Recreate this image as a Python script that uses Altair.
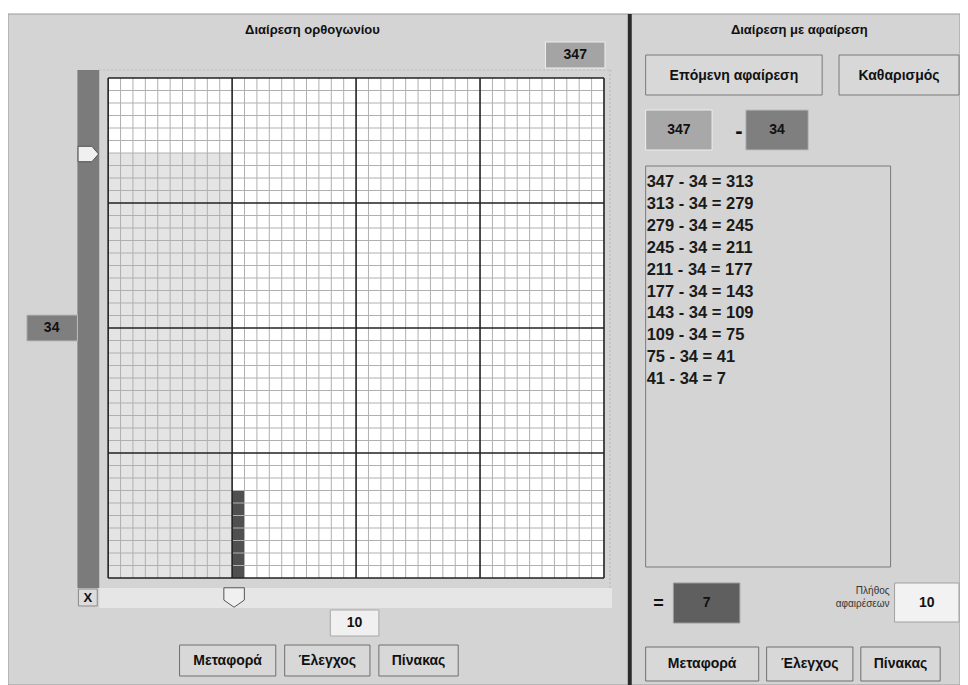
import altair as alt
import pandas as pd

# ---------------- values ----------------
title_left = "Διαίρεση ορθογωνίου"
title_right = "Διαίρεση με αφαίρεση"
dividend = 347
divisor = 34
columns_used = 10
remainder = 7
subtractions = 10
grid_cells = 40
major_every = 10
history = [
    "347 - 34 = 313", "313 - 34 = 279", "279 - 34 = 245", "245 - 34 = 211",
    "211 - 34 = 177", "177 - 34 = 143", "143 - 34 = 109", "109 - 34 = 75",
    "75 - 34 = 41", "41 - 34 = 7",
]
left_buttons = ["Μεταφορά", "Έλεγχος", "Πίνακας"]
right_buttons = ["Μεταφορά", "Έλεγχος", "Πίνακας"]
top_buttons = ["Επόμενη αφαίρεση", "Καθαρισμός"]
count_label = ["Πλήθος", "αφαιρέσεων"]

# ---------------- layout (reference pixel coordinates) ----------------
W, H = 952, 677
PX = alt.Scale(domain=[8, 968], range=[0, W])
PY = alt.Scale(domain=[8, 685], range=[0, H])
FONT = "Liberation Sans"
KX = W / 960.0


def sx(v):
    return (v - 8) * KX


GRID_L, GRID_R, GRID_T, GRID_B = 109, 609, 78, 578
GX = alt.Scale(domain=[0, grid_cells], range=[sx(GRID_L), sx(GRID_R)])
GY = alt.Scale(domain=[0, grid_cells], range=[GRID_B - 8, GRID_T - 8])


def px(f):
    return alt.X(f"{f}:Q", scale=PX, axis=None)


def py(f):
    return alt.Y(f"{f}:Q", scale=PY, axis=None)


PANEL = "#d4d4d4"

rects = []


def rect(x0, x1, y0, y1, fill, stroke="#d4d4d4", sw=0.0):
    rects.append(dict(x0=x0, x1=x1, y0=y0, y1=y1, fill=fill, stroke=stroke, sw=sw))


texts_c, texts_l, texts_r = [], [], []


def text(lst, x, y, t, fs=13, color="#111111"):
    lst.append(dict(x=x, y=y, t=str(t), fs=fs, color=color))


# panels
rect(8, 968, 14, 685, PANEL, "#9a9a9a", 1)
rect(633, 637, 14, 685, "#2b2b2b")

# left panel widgets
rect(78, 100, 70, 588, "#7b7b7b")                  # vertical slider
rect(100, 617, 588, 608, "#e6e6e6")                # horizontal slider
rect(79, 98, 589, 606, "#dcdcdc", "#8a8a8a", 1)    # X box
text(texts_c, 88.5, 598, "X", 13)
rect(550, 610, 42, 68, "#a4a4a4", "#eeeeee", 1)
text(texts_c, 580, 55, dividend, 14)
rect(27, 78, 315, 341, "#7f7f7f", "#bcbcbc", 1)
text(texts_c, 52, 328, divisor, 14)
rect(333, 382, 610, 636, "#f0f0f0", "#a8a8a8", 1)
text(texts_c, 357.5, 623, subtractions, 14)
text(texts_c, 315, 30, title_left, 13)
for lbl, (a, b) in zip(left_buttons, [(181, 278), (287, 373), (382, 462)]):
    rect(a, b, 645, 676, "#d8d8d8", "#6f6f6f", 1)
    text(texts_c, (a + b) / 2, 661, lbl, 14)

# right panel widgets
text(texts_c, 806, 30, title_right, 13)
for lbl, (a, b) in zip(top_buttons, [(651, 829), (846, 967)]):
    rect(a, b, 55, 95, "#d8d8d8", "#7a7a7a", 1)
    text(texts_c, (a + b) / 2, 76, lbl, 14)
rect(651, 718, 110, 150, "#a8a8a8", "#eeeeee", 1)
text(texts_c, 684.5, 130, dividend, 14)
text(texts_c, 745, 131, "-", 22)
rect(752, 815, 110, 150, "#7f7f7f", "#bdbdbd", 1)
text(texts_c, 783.5, 130, divisor, 14)
rect(651, 898, 166, 567, PANEL, "#7a7a7a", 1)
for i, line in enumerate(history):
    text(texts_l, 652, 182 + i * 21.9, line, 16.5, "#1a1a1a")
text(texts_c, 664, 604, "=", 18)
rect(679, 746, 583, 623, "#5f5f5f", "#9a9a9a", 1)
text(texts_c, 712.5, 603, remainder, 14)
rect(902, 967, 583, 622, "#f2f2f2", "#a0a0a0", 1)
text(texts_c, 934.5, 603, subtractions, 14)
text(texts_r, 897, 591, count_label[0], 10, "#333333")
text(texts_r, 897, 604, count_label[1], 10, "#333333")
for lbl, (a, b) in zip(right_buttons, [(651, 765), (773, 860), (868, 948)]):
    rect(a, b, 647, 681, "#d8d8d8", "#6f6f6f", 1)
    text(texts_c, (a + b) / 2, 664, lbl, 14)

rect_df = pd.DataFrame(rects)

# faint dotted frame of the drawing area
dotted_df = pd.DataFrame([
    dict(x0=100, x1=617, y0=70, y1=70),
    dict(x0=615, x1=615, y0=70, y1=588),
])

# grid data
grid_rects = pd.DataFrame([
    dict(c0=0, c1=grid_cells, r0=0, r1=grid_cells, fill="#ffffff"),
    dict(c0=0, c1=columns_used, r0=0, r1=divisor, fill="#e4e4e4"),
    dict(c0=columns_used, c1=columns_used + 1, r0=0, r1=remainder, fill="#505050"),
])
lines = []
for i in range(grid_cells + 1):
    major = i % major_every == 0
    col = "#222222" if major else "#b0b0b0"
    sw = 1.6 if major else 1.0
    lines.append(dict(c0=i, c1=i, r0=0, r1=grid_cells, color=col, sw=sw, major=major))
    lines.append(dict(c0=0, c1=grid_cells, r0=i, r1=i, color=col, sw=sw, major=major))
lines_df = pd.DataFrame(lines).sort_values("major")

# ---------------- layers ----------------
base_rect = alt.Chart(rect_df).mark_rect().encode(
    x=px("x0"), x2="x1", y=py("y0"), y2="y1",
    fill=alt.Fill("fill:N", scale=None),
    stroke=alt.Stroke("stroke:N", scale=None),
    strokeWidth=alt.StrokeWidth("sw:Q", scale=None),
)

dotted = alt.Chart(dotted_df).mark_rule(color="#b8b8b8", strokeDash=[2, 2], strokeWidth=1).encode(
    x=px("x0"), x2="x1", y=py("y0"), y2="y1",
)

grid_fill = alt.Chart(grid_rects).mark_rect().encode(
    x=alt.X("c0:Q", scale=GX, axis=None), x2="c1",
    y=alt.Y("r0:Q", scale=GY, axis=None), y2="r1",
    fill=alt.Fill("fill:N", scale=None),
)

grid_lines = alt.Chart(lines_df).mark_rule().encode(
    x=alt.X("c0:Q", scale=GX, axis=None), x2="c1",
    y=alt.Y("r0:Q", scale=GY, axis=None), y2="r1",
    color=alt.Color("color:N", scale=None),
    strokeWidth=alt.StrokeWidth("sw:Q", scale=None),
)

thumbs = pd.DataFrame([
    dict(x=89, y=154, shape="M-1,-0.75L0.35,-0.75L1,0L0.35,0.75L-1,0.75Z"),
    dict(x=236, y=597, shape="M-1,-0.9L1,-0.9L1,0.3L0,1L-1,0.3Z"),
])
thumb_layer = alt.Chart(thumbs).mark_point(filled=True, size=420, fill="#f0f0f0",
                                           stroke="#555555", strokeWidth=1, opacity=1).encode(
    x=px("x"), y=py("y"), shape=alt.Shape("shape:N", scale=None),
)


def text_layer(rows, align, weight):
    return alt.Chart(pd.DataFrame(rows)).mark_text(
        align=align, baseline="middle", font=FONT, fontWeight=weight,
    ).encode(
        x=px("x"), y=py("y"), text="t:N",
        size=alt.Size("fs:Q", scale=None),
        color=alt.Color("color:N", scale=None),
    )


chart = alt.layer(
    base_rect, dotted, grid_fill, grid_lines, thumb_layer,
    text_layer(texts_c, "center", "bold"),
    text_layer(texts_l, "left", "bold"),
    text_layer(texts_r, "right", "normal"),
).resolve_scale(
    x="independent", y="independent",
).properties(
    width=W, height=H, padding=0, autosize="none", background="white",
).configure_view(stroke=None)

chart.save("out.html", embed_options={"renderer": "svg", "actions": False})
